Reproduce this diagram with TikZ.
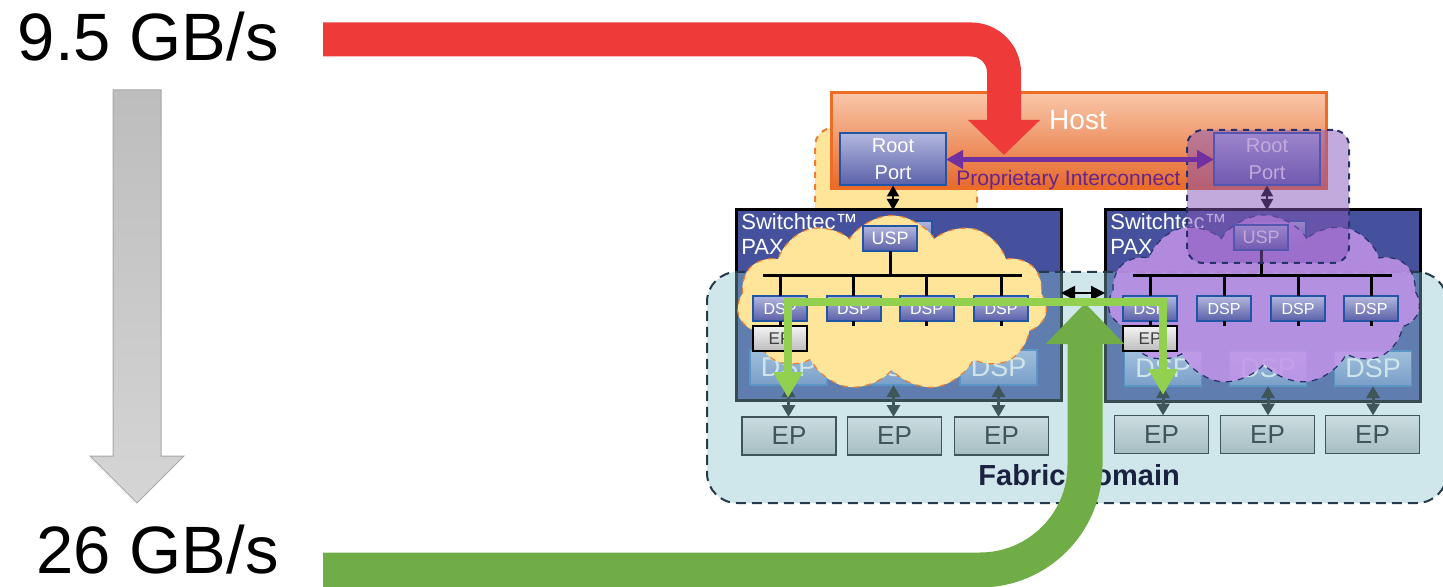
\documentclass[tikz,border=0pt]{standalone}
\usepackage{fontspec}
\setmainfont{Liberation Sans}
\usetikzlibrary{arrows.meta,shapes.symbols,calc}

\definecolor{hostTop}{HTML}{F9C6A8}
\definecolor{hostBot}{HTML}{E6682B}
\definecolor{hostLine}{HTML}{EF6C24}
\definecolor{portTop}{HTML}{B2B6DE}
\definecolor{portBot}{HTML}{5A60A8}
\definecolor{portLine}{HTML}{2255A5}
\definecolor{swFill}{HTML}{45519C}
\definecolor{bigdspTop}{HTML}{B3BFE8}
\definecolor{bigdspBot}{HTML}{7089C8}
\definecolor{bigdspLine}{HTML}{3F79C2}
\definecolor{fabric}{HTML}{87C0CA}
\definecolor{fabricLine}{HTML}{253A4A}
\definecolor{cloudY}{HTML}{FEE599}
\definecolor{cloudYLine}{HTML}{EB7D34}
\definecolor{cloudP}{HTML}{C494EA}
\definecolor{cloudPLine}{HTML}{28306A}
\definecolor{regionP}{HTML}{8755B9}
\definecolor{epTop}{HTML}{CADCDF}
\definecolor{epBot}{HTML}{A6BEC2}
\definecolor{epLine}{HTML}{3E5659}
\definecolor{sepTop}{HTML}{F5F5F5}
\definecolor{sepBot}{HTML}{BCBCBC}
\definecolor{sepText}{HTML}{404040}
\definecolor{interc}{HTML}{7030A0}
\definecolor{proText}{HTML}{67248A}
\definecolor{bigRed}{HTML}{EE3B3A}
\definecolor{bigGreen}{HTML}{70AD47}
\definecolor{pathGreen}{HTML}{92D050}
\definecolor{fabText}{HTML}{1B2141}
\definecolor{gTop}{HTML}{BDBDBD}
\definecolor{gBot}{HTML}{D5D5D5}
\definecolor{gLine}{HTML}{A8A8A8}

\tikzset{
  rate/.style={inner sep=0pt, font=\fontsize{33.5}{40}\selectfont},
  port/.style={rectangle, inner sep=0pt, outer sep=0pt, top color=portTop,
    bottom color=portBot, draw=portLine, line width=1pt, text=white, align=center},
  rootport/.style={port, minimum width=53pt, minimum height=26pt,
    font=\fontsize{10}{13.5}\selectfont},
  smallport/.style={port, minimum width=27pt, minimum height=12.5pt,
    font=\fontsize{8}{9}\selectfont},
  uspport/.style={smallport, font=\fontsize{9}{10}\selectfont},
  bigdsp/.style={rectangle, inner sep=0pt, outer sep=0pt, top color=bigdspTop,
    bottom color=bigdspBot, draw=bigdspLine, line width=0.75pt, text=white,
    minimum width=38.5pt, minimum height=17.5pt, font=\fontsize{13.5}{14}\selectfont},
  smallep/.style={rectangle, inner sep=0pt, outer sep=0pt, top color=sepTop,
    bottom color=sepBot, draw=black, line width=0.75pt, text=sepText,
    minimum width=27pt, minimum height=12.5pt, font=\fontsize{8.5}{9}\selectfont},
  epbox/.style={rectangle, inner sep=0pt, outer sep=0pt, top color=epTop,
    bottom color=epBot, draw=epLine, line width=0.75pt, text=epLine,
    minimum width=47pt, minimum height=19pt, font=\fontsize{13}{14}\selectfont},
  hostbox/.style={rectangle, inner sep=0pt, outer sep=0pt, top color=hostTop,
    bottom color=hostBot, draw=hostLine, line width=1.5pt},
  hosttext/.style={inner sep=0pt, text=white, font=\fontsize{14}{16}\selectfont},
  switchbox/.style={rectangle, inner sep=0pt, outer sep=0pt, fill=swFill,
    draw=black, line width=1.5pt},
  swtitle/.style={inner sep=0pt, anchor=north west, align=left, text=white,
    font=\fontsize{11}{12.5}\selectfont},
  ydomain/.style={rectangle, inner sep=0pt, rounded corners=9pt, fill=cloudY,
    draw=cloudYLine, dashed, line width=1pt},
  pdomain/.style={rectangle, inner sep=0pt, rounded corners=8pt, fill=regionP,
    fill opacity=0.5, draw=cloudPLine, dashed, line width=1pt},
  fabricbox/.style={rectangle, inner sep=0pt, rounded corners=15pt, fill=fabric,
    fill opacity=0.4, draw=fabricLine, dash pattern=on 5pt off 3pt, line width=1pt},
  ycloud/.style={cloud, cloud puffs=11, cloud puff arc=115, cloud ignores aspect,
    inner sep=0pt, minimum width=155pt, minimum height=87.5pt, fill=cloudY,
    draw=cloudYLine, dashed, line width=0.6pt},
  pcloud/.style={cloud, cloud puffs=11, cloud puff arc=115, cloud ignores aspect,
    inner sep=0pt, minimum width=156pt, minimum height=85pt, fill=cloudP,
    fill opacity=0.85, draw=cloudPLine, dashed, line width=0.6pt},
  bus/.style={draw=black, line width=1.5pt},
  updown/.style={draw=black, line width=1pt, <->, >={Triangle[width=6pt,length=5.5pt]}},
  eplink/.style={draw=epLine, line width=1.5pt, <->, >={Triangle[width=6.5pt,length=6pt]}},
  crosslink/.style={draw=black, line width=1pt, <->, >={Triangle[width=7pt,length=7pt]}},
  interconnect/.style={draw=interc, line width=2.5pt, <->, >={Triangle[width=9pt,length=8.5pt]}},
  protextstyle/.style={inner sep=0pt, text=proText, font=\fontsize{10.5}{12}\selectfont},
  fabtext/.style={inner sep=0pt, text=fabText, font=\bfseries\fontsize{14.5}{16}\selectfont},
  redflow/.style={draw=bigRed, line width=17pt, rounded corners=16.5pt,
    -{Triangle[width=35pt,length=17.5pt]}},
  greenflow/.style={draw=bigGreen, line width=17.5pt, rounded corners=52.5pt,
    -{Triangle[width=38pt,length=20.5pt]}},
  pathflow/.style={draw=pathGreen, line width=4pt,
    {Triangle[width=14pt,length=13pt]}-{Triangle[width=14pt,length=13pt]}}
}

\begin{document}
\begin{tikzpicture}[x=0.5pt,y=-0.5pt]
\useasboundingbox (0,0) rectangle (1443,587);
\clip (0,0) rectangle (1443,587);

% bandwidth labels and the gray trend arrow
\node[rate, anchor=base east] (rateHi) at (279,61) {9.5 GB/s};
\node[rate, anchor=base east] (rateLo) at (279,573) {26 GB/s};
\shadedraw[top color=gTop, bottom color=gBot, draw=gLine, line width=0.5pt]
  (113,90) -- (161,90) -- (161,456) -- (184,456) -- (137,503) -- (90,456)
  -- (113,456) -- cycle;

% yellow domain reaching up behind the host
\node[ydomain, minimum width=81pt, minimum height=56pt] (ydom) at (896,184) {};

% host with its two root ports
\node[hostbox, minimum width=247.5pt, minimum height=48pt] (host) at (1078.5,141) {};
\node[hosttext, anchor=base] (hostlbl) at (1078,130) {Host};
\node[rootport] (lrp) at (893,159.5) {Root\\Port};
\node[rootport] (rrp) at (1267,159.5) {Root\\Port};

% the two PAX switches
\node[switchbox, minimum width=162.5pt, minimum height=95pt] (lsw) at (898.5,305) {};
\node[switchbox, minimum width=157.5pt, minimum height=95.5pt] (rsw) at (1262.5,305.5) {};
\node[swtitle] (lswt) at (741,213.5) {Switchtec™\\PAX};
\node[swtitle] (rswt) at (1110,213.5) {Switchtec™\\PAX};
\node[smallport] (lusp2) at (905,233.5) {};
\node[smallport] (rusp2) at (1279,233.5) {};
\foreach \n/\x in {1/788.5,2/893.5,3/998.5}
  \node[bigdsp] (ldspb\n) at (\x,367.5) {DSP};
\foreach \n/\x in {1/1163,2/1268,3/1373}
  \node[bigdsp] (rdspb\n) at (\x,368.5) {DSP};

% fabric domain
\node[fabricbox, minimum width=370pt, minimum height=115.5pt] (fab) at (1077,387.5) {};

% partition clouds
\node[ycloud] (lcloud) at (892,303) {};
\node[pcloud] (rcloud) at (1264,300) {};

% left switch internals
\coordinate (lbusW) at (763,276);
\coordinate (lbusE) at (1022,276);
\draw[bus] (lbusW) -- (lbusE);
\node[uspport] (lusp) at (890,238.5) {USP};
\draw[bus] (lusp.south) -- (lusp.south |- lbusW);
\foreach \n/\x in {1/780,2/853.5,3/926.5,4/1001}{
  \node[smallport] (ldsp\n) at (\x,308.5) {DSP};
  \draw[bus] (ldsp\n.north) -- (ldsp\n.north |- lbusW);
}
\foreach \n in {2,3,4} \draw[bus] (ldsp\n.south) -- ++(0,5);
\node[smallep] (lsep) at (780,338.5) {EP};
\draw[bus] (ldsp1.south) -- (lsep.north);

% right switch internals
\coordinate (rbusW) at (1133,276);
\coordinate (rbusE) at (1392,276);
\draw[bus] (rbusW) -- (rbusE);
\node[uspport] (rusp) at (1261,237.5) {USP};
\draw[bus] (rusp.south) -- (rusp.south |- rbusW);
\foreach \n/\x in {1/1150,2/1224,3/1298,4/1371}{
  \node[smallport] (rdsp\n) at (\x,308.5) {DSP};
  \draw[bus] (rdsp\n.north) -- (rdsp\n.north |- rbusW);
}
\foreach \n in {2,3,4} \draw[bus] (rdsp\n.south) -- ++(0,5);
\node[smallep] (rsep) at (1150,338.5) {EP};
\draw[bus] (rdsp1.south) -- (rsep.north);

% root port links
\draw[updown] (lrp.south) -- (lrp.south |- lsw.north);
\draw[updown] (rrp.south) -- (rrp.south |- rsw.north);

% endpoints below the switches
\foreach \n/\x in {1/789,2/894.5,3/1001.5}{
  \node[epbox] (lep\n) at (\x,436) {EP};
  \draw[eplink] (ldspb\n.south) -- (ldspb\n.south |- lep\n.north);
}
\foreach \n/\x in {1/1161.5,2/1267.5,3/1372.5}{
  \node[epbox] (rep\n) at (\x,434.5) {EP};
  \draw[eplink] (rdspb\n.south) -- (rdspb\n.south |- rep\n.north);
}

% purple domain around the second root port
\node[pdomain, minimum width=81pt, minimum height=66.5pt] (pdom) at (1268,196.5) {};

% host-side flow
\coordinate (redStart) at (323,39.5);
\coordinate (redTip) at (1004,155);
\draw[redflow] (redStart) -| (redTip);
\draw[interconnect] (lrp.east) -- (rrp.west);
\node[protextstyle, anchor=base] (ptext) at (1068.5,186) {Proprietary Interconnect};

% fabric label and fabric-side flow
\node[fabtext, anchor=base west] (fabl) at (978,485) {Fabric Domain};
\coordinate (greenStart) at (323,570);
\coordinate (greenTip) at (1085,303);
\draw[greenflow] (greenStart) -| (greenTip);

\coordinate (xl) at ([yshift=6pt]lsw.east);
\draw[crosslink] (xl) -- (rsw.west |- xl);

\coordinate (pA) at (788,398);
\coordinate (pB) at (1163,395);
\coordinate (pTop) at (0,302);
\draw[pathflow] (pA) -- (pA |- pTop) -- (pB |- pTop) -- (pB);
\end{tikzpicture}
\end{document}
